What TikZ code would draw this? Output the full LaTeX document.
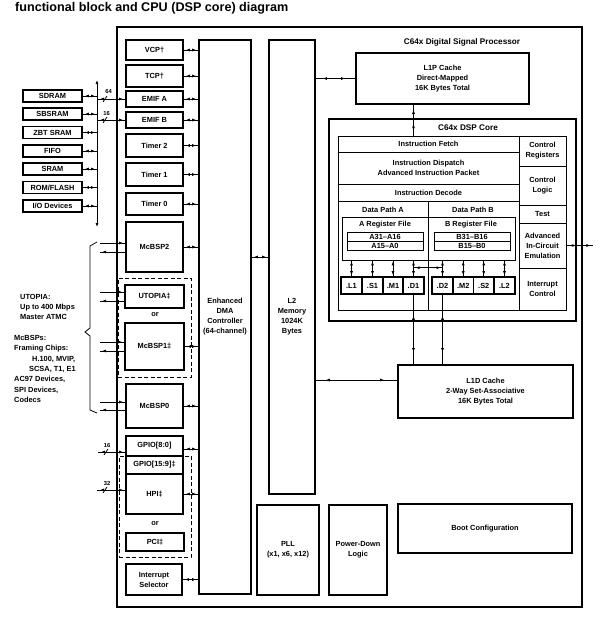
\documentclass[tikz,border=0pt]{standalone}
\usepackage{fontspec}
\setmainfont{Liberation Sans}
\usetikzlibrary{arrows.meta,decorations.markings,calc}
\newcommand\myfs[1]{\fontsize{#1}{10}\selectfont\bfseries}
\newcommand\mkbox[7]{%
  \pgfmathsetmacro\bw{#5-#3}\pgfmathsetmacro\bh{#6-#4}%
  \pgfmathsetmacro\bcx{(#3+#5)/2}\pgfmathsetmacro\bcy{(#4+#6)/2}%
  \node[#1, minimum width=\bw pt, minimum height=\bh pt] (#2) at (\bcx,\bcy) {#7};}
\tikzset{
  blk/.style={draw, line width=1.7pt, font=\myfs{7.4}, align=center, inner sep=0pt},
  outerbox/.style={draw, line width=2pt, inner sep=0pt},
  corebox/.style={draw, line width=1.9pt, inner sep=0pt},
  thinbox/.style={draw, line width=0.8pt, font=\myfs{7.4}, align=center, inner sep=0pt},
  unitbox/.style={draw, line width=1.6pt, font=\myfs{7.4}, inner sep=0pt},
  dashbox/.style={draw, line width=0.9pt, dash pattern=on 4pt off 2.5pt, inner sep=0pt},
  lbl/.style={font=\myfs{7.4}, inner sep=0pt, align=center},
  conn/.style={line width=0.8pt},
  bi/.style 2 args={conn, postaction={decorate}, decoration={markings,
      mark=at position #1 with {\arrowreversed{>}},
      mark=at position -#2 with {\arrow{>}}}},
  fwd/.style={conn, postaction={decorate}, decoration={markings,
      mark=at position -#1 with {\arrow{>}}}},
  bwd/.style={conn, postaction={decorate}, decoration={markings,
      mark=at position #1 with {\arrowreversed{>}}}},
}
\begin{document}
\begin{tikzpicture}[x=1pt,y=-1pt,>={Latex[length=4pt,width=3pt]}]
\useasboundingbox (0,0) rectangle (601,618);
\fill[white] (0,0) rectangle (601,618);

\node[anchor=base west, inner sep=0pt, font=\myfs{12.6}] (title) at (15,11.5) {functional block and CPU (DSP core) diagram};

% outer DSP
\mkbox{outerbox}{dsp}{117}{27}{582}{607}{}
\node[font=\myfs{8.2}, inner sep=0pt] (dsplbl) at (462,42) {C64x Digital Signal Processor};

% left column
\mkbox{blk}{vcp}{126}{40}{183}{60}{VCP†}
\mkbox{blk}{tcp}{126}{65}{183}{87}{TCP†}
\mkbox{blk}{emifA}{126}{91}{183}{107}{EMIF A}
\mkbox{blk}{emifB}{126}{112}{183}{128}{EMIF B}
\mkbox{blk}{tim2}{126}{134}{183}{157}{Timer 2}
\mkbox{blk}{tim1}{126}{163}{183}{186}{Timer 1}
\mkbox{blk}{tim0}{126}{193}{183}{215}{Timer 0}
\mkbox{blk}{mcbsp2}{126}{222}{183}{272}{McBSP2}
\mkbox{dashbox}{dashA}{118}{278}{191}{377}{}
\mkbox{blk}{utopia}{125}{285}{184}{308}{UTOPIA‡}
\node[lbl] (orA) at (155,315) {or};
\mkbox{blk}{mcbsp1}{125}{323}{184}{370}{McBSP1‡}
\mkbox{blk}{mcbsp0}{126}{384}{183}{428}{McBSP0}
\mkbox{dashbox}{dashB}{119}{456}{191}{557}{}
\mkbox{blk}{gpioA}{126}{436}{183}{456}{GPIO[8:0]}
\mkbox{blk}{gpioB}{126}{456}{183}{474}{GPIO[15:9]‡}
\mkbox{blk}{hpi}{126}{474}{183}{514}{HPI‡}
\node[lbl] (orB) at (155,524) {or};
\mkbox{blk}{pci}{126}{533}{184}{551}{PCI‡}
\mkbox{blk}{intsel}{126}{564}{182}{595}{Interrupt\\Selector}

% DMA and L2
\mkbox{blk}{dma}{199}{40}{251}{594}{Enhanced\\DMA\\Controller\\(64-channel)}
\mkbox{blk}{l2}{269}{40}{315}{494}{}
\node[lbl] (l2txt) at (292,317) {L2\\Memory\\1024K\\Bytes};

% caches and others
\mkbox{blk}{l1p}{356}{53}{529}{104}{L1P Cache\\Direct-Mapped\\16K Bytes Total}
\mkbox{corebox}{core}{329}{119}{576}{321}{}
\node[font=\myfs{8.2}, inner sep=0pt] (corelbl) at (468,128) {C64x DSP Core};
\mkbox{blk}{l1d}{398}{365}{573}{418}{L1D Cache\\2-Way Set-Associative\\16K Bytes Total}
\mkbox{blk}{pll}{257}{505}{319}{595}{PLL\\(x1, x6, x12)}
\mkbox{blk}{pdl}{329}{505}{387}{595}{Power-Down\\Logic}
\mkbox{blk}{boot}{398}{504}{572}{553}{Boot Configuration}

% core internals
\mkbox{thinbox}{fetch}{338}{136}{519}{152}{Instruction Fetch}
\mkbox{thinbox}{disp}{338}{152}{519}{184}{Instruction Dispatch\\Advanced Instruction Packet}
\mkbox{thinbox}{dec}{338}{184}{519}{201}{Instruction Decode}
\mkbox{thinbox}{pathA}{338}{201}{428}{310}{}
\mkbox{thinbox}{pathB}{428}{201}{519}{310}{}
\mkbox{thinbox}{creg}{519}{136}{566}{166}{Control\\Registers}
\mkbox{thinbox}{clog}{519}{166}{566}{205}{Control\\Logic}
\mkbox{thinbox}{test}{519}{205}{566}{223}{Test}
\mkbox{thinbox}{emu}{519}{223}{566}{268}{Advanced\\In-Circuit\\Emulation}
\mkbox{thinbox}{intc}{519}{268}{566}{310}{Interrupt\\Control}
\node[lbl] (dpA) at (383,210) {Data Path A};
\node[lbl] (dpB) at (473,210) {Data Path B};
\mkbox{thinbox}{regA}{342}{217}{428}{260}{}
\mkbox{thinbox}{regB}{428}{217}{515}{260}{}
\node[lbl] (rfA) at (385,225) {A Register File};
\node[lbl] (rfB) at (471,225) {B Register File};
\mkbox{thinbox}{a1}{347}{232}{423}{241}{A31–A16}
\mkbox{thinbox}{a0}{347}{241}{423}{250}{A15–A0}
\mkbox{thinbox}{b1}{434}{232}{510}{241}{B31–B16}
\mkbox{thinbox}{b0}{434}{241}{510}{250}{B15–B0}
\mkbox{unitbox}{uL1}{341}{277}{362}{294}{.L1}
\mkbox{unitbox}{uS1}{362}{277}{383}{294}{.S1}
\mkbox{unitbox}{uM1}{383}{277}{403}{294}{.M1}
\mkbox{unitbox}{uD1}{403}{277}{424}{294}{.D1}
\mkbox{unitbox}{uD2}{432}{277}{453}{294}{.D2}
\mkbox{unitbox}{uM2}{453}{277}{473.5}{294}{.M2}
\mkbox{unitbox}{uS2}{473.5}{277}{494}{294}{.S2}
\mkbox{unitbox}{uL2}{494}{277}{515}{294}{.L2}

% external devices
\mkbox{blk}{dev1}{23}{90}{82}{102}{SDRAM}
\mkbox{blk}{dev2}{23}{108}{82}{120}{SBSRAM}
\mkbox{blk}{dev3}{23}{126.5}{82}{138.5}{ZBT SRAM}
\mkbox{blk}{dev4}{23}{145}{82}{157}{FIFO}
\mkbox{blk}{dev5}{23}{163}{82}{175}{SRAM}
\mkbox{blk}{dev6}{23}{181.5}{82}{193.5}{ROM/FLASH}
\mkbox{blk}{dev7}{23}{200}{82}{212}{I/O Devices}
\coordinate (bustop) at (97,80);
\coordinate (busbot) at (97,227);
\draw[conn,<->] (bustop) -- (busbot);
\foreach \d in {dev1,dev2,dev3,dev4,dev5,dev6,dev7}
  \draw[bi={2pt}{2pt}] (\d.east) -- (\d.east -| bustop);

% EMIF buses
\draw[bi={3pt}{2pt}] (emifA.west -| bustop) -- (emifA.west);
\draw[bi={3pt}{2pt}] (emifB.west -| bustop) -- (emifB.west);
\draw[conn] ($(emifA.west -| bustop)+(6,3)$) -- ++(4,-6);
\draw[conn] ($(emifB.west -| bustop)+(6,3)$) -- ++(4,-6);
\node[font=\myfs{5.8}, inner sep=0pt] (n64) at (108.5,92) {64};
\node[font=\myfs{5.8}, inner sep=0pt] (n16a) at (106.5,113.5) {16};

% to DMA
\foreach \b in {vcp,tcp,emifA,emifB,tim2,tim1,tim0,mcbsp2,mcbsp1,mcbsp0,hpi,intsel}
  \draw[bi={2pt}{2pt}] (\b.east) -- (\b.east -| dma.west);
\draw[bi={2pt}{2pt}] ($(gpioA.east)+(0,3)$) -- ($(gpioA.east -| dma.west)+(0,3)$);

% serial port lines
\coordinate (m2i) at (100,243); \coordinate (m2o) at (100,252);
\coordinate (uti) at (100,292); \coordinate (uto) at (100,301);
\coordinate (m1i) at (100,342); \coordinate (m1o) at (100,351);
\coordinate (m0i) at (100,402); \coordinate (m0o) at (100,410);
\draw[fwd=2pt] (m2i) -- (m2i -| mcbsp2.west);
\draw[bwd=2pt] (m2o) -- (m2o -| mcbsp2.west);
\draw[fwd=2pt] (uti) -- (uti -| utopia.west);
\draw[bwd=2pt] (uto) -- (uto -| utopia.west);
\draw[fwd=2pt] (m1i) -- (m1i -| mcbsp1.west);
\draw[bwd=2pt] (m1o) -- (m1o -| mcbsp1.west);
\draw[fwd=2pt] (m0i) -- (m0i -| mcbsp0.west);
\draw[bwd=2pt] (m0o) -- (m0o -| mcbsp0.west);
\draw[conn] (97,242) -- (90,246) -- (90,328) -- (85,332) -- (90,336) -- (90,410) -- (97,413);

% left texts
\node[anchor=base west, lbl] (t1) at (20,299.5) {UTOPIA:};
\node[anchor=base west, lbl] (t2) at (20,309.5) {Up to 400 Mbps};
\node[anchor=base west, lbl] (t3) at (20,319.5) {Master ATMC};
\node[anchor=base west, lbl] (t4) at (14,340.5) {McBSPs:};
\node[anchor=base west, lbl] (t5) at (14,350.8) {Framing Chips:};
\node[anchor=base west, lbl] (t6) at (32,361.1) {H.100, MVIP,};
\node[anchor=base west, lbl] (t7) at (29,371.4) {SCSA, T1, E1};
\node[anchor=base west, lbl] (t8) at (14,381.7) {AC97 Devices,};
\node[anchor=base west, lbl] (t9) at (14,392) {SPI Devices,};
\node[anchor=base west, lbl] (t10) at (14,402.3) {Codecs};

% GPIO / HPI external
\coordinate (g16) at (98,452);
\coordinate (h32) at (97,490);
\draw[bi={3pt}{2pt}] (g16) -- (g16 -| gpioA.west);
\draw[bi={3pt}{2pt}] (h32) -- (h32 -| hpi.west);
\draw[conn] ($(g16)+(6,3)$) -- ++(4,-6);
\draw[conn] ($(h32)+(6,3)$) -- ++(4,-6);
\node[font=\myfs{5.8}, inner sep=0pt] (n16b) at (107,445) {16};
\node[font=\myfs{5.8}, inner sep=0pt] (n32) at (107,484) {32};

% memory connections
\coordinate (dl) at (0,257);
\draw[bi={2pt}{2pt}] (dma.east |- dl) -- (l2.west |- dl);
\draw[bi={7pt}{10pt}] (l2.east |- l1p.west) -- (l1p.west);
\coordinate (ld) at (0,380);
\draw[bi={10pt}{13pt}] (l2.east |- ld) -- (l1d.west |- ld);
\draw[bi={5pt}{5pt}] (l1p.south -| uD1.center) -- (fetch.north -| uD1.center);

% register file to units
\foreach \u in {uL1,uS1,uM1,uD1}
  \draw[bi={1pt}{1pt}] (\u.north |- regA.south) -- (\u.north);
\foreach \u in {uD2,uM2,uS2,uL2}
  \draw[bi={1pt}{1pt}] (\u.north |- regB.south) -- (\u.north);
\draw[bi={2pt}{2pt}] ($(uD1.north)+(0,-8.5)$) -- ($(uD2.north)+(0,-8.5)$);
\draw[bi={21pt}{12pt}] (uD1.south) -- (uD1.south |- l1d.north);
\draw[bi={21pt}{12pt}] (uD2.south) -- (uD2.south |- l1d.north);

% emulation port
\draw[bi={3pt}{3pt}] (emu.east) -- ++(27,0) coordinate (emuend);
\end{tikzpicture}
\end{document}
